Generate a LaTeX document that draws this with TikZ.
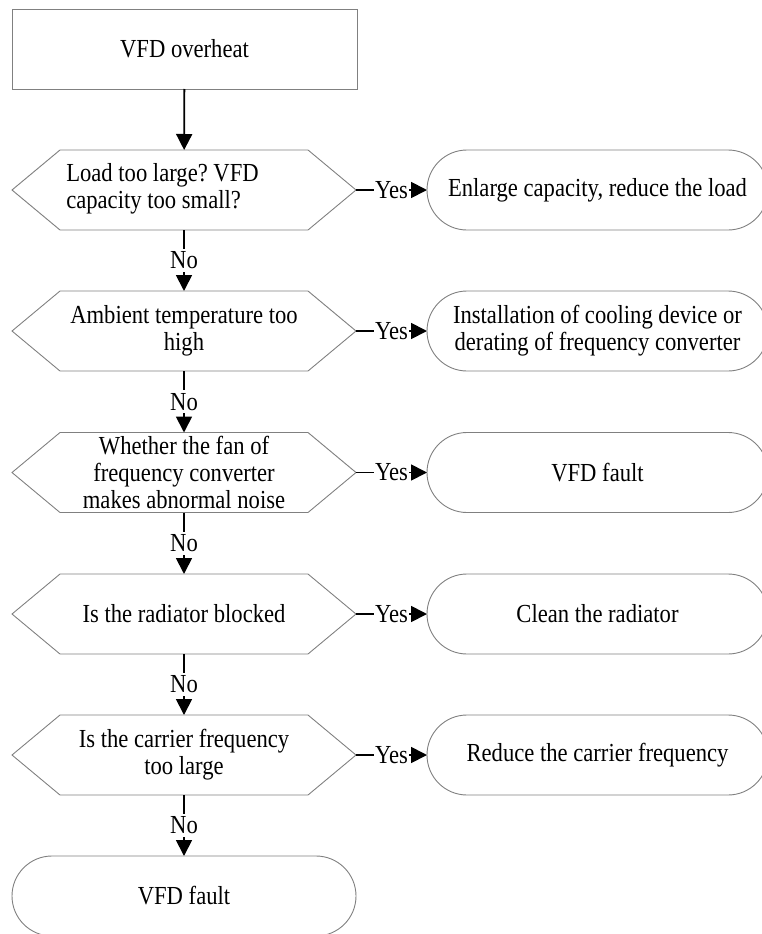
\documentclass[tikz,border=0pt]{standalone}
\usepackage{fontspec}
\setmainfont[FakeStretch=0.87]{Liberation Serif}
\usetikzlibrary{arrows.meta}
\frenchspacing
\newcommand\hexframe[1]{%
  \draw[shapeline] (#1.west) -- ([xshift=48pt]#1.north west) -- ([xshift=-48pt]#1.north east)
    -- (#1.east) -- ([xshift=-48pt]#1.south east) -- ([xshift=48pt]#1.south west) -- cycle;}
\begin{document}
\begin{tikzpicture}[x=1pt,y=-1pt,
  every node/.style={font=\fontsize{26}{27}\selectfont, inner sep=0pt, outer sep=0pt},
  shapeline/.style={draw=black!50, line width=0.9pt},
  startbox/.style={shapeline, minimum width=345pt, minimum height=80pt},
  decbox/.style={minimum width=344pt, minimum height=80pt, align=center},
  endbox/.style={shapeline, rounded corners=40pt, minimum height=80pt, align=center},
  flow/.style={line width=1.8pt, -{Triangle[width=16pt,length=16pt]}},
  lab/.style={fill=white, inner xsep=1pt, inner ysep=3pt}]
\useasboundingbox (0,0) rectangle (761,934);

\node[startbox] (start) at (184.5,49) {VFD overheat};

\node[minimum width=344pt, minimum height=80pt] (d1) at (184,190)
  {\begin{tabular}{@{}l@{}}Load too large? VFD\\capacity too small?\end{tabular}\hspace*{43pt}};
\node[decbox] (d2) at (184,331) {Ambient temperature too\\high};
\node[decbox] (d3) at (184,472.5) {Whether the fan of\\frequency converter\\makes abnormal noise};
\node[decbox] (d4) at (184,614) {Is the radiator blocked};
\node[decbox] (d5) at (184,755) {Is the carrier frequency\\too large};
\hexframe{d1}\hexframe{d2}\hexframe{d3}\hexframe{d4}\hexframe{d5}

\node[endbox, minimum width=341pt] (r1) at (597.5,190) {Enlarge capacity, reduce the load};
\node[endbox, minimum width=341pt] (r2) at (597.5,331) {Installation of cooling device or\\derating of frequency converter};
\node[endbox, minimum width=341pt] (r3) at (597.5,472.5) {VFD fault};
\node[endbox, minimum width=341pt] (r4) at (597.5,614) {Clean the radiator};
\node[endbox, minimum width=341pt] (r5) at (597.5,755) {Reduce the carrier frequency};

\node[endbox, minimum width=344pt] (fin) at (184,896) {VFD fault};

\draw[flow] (start) -- (d1);
\draw[flow] (d1) -- node[lab]{No} (d2);
\draw[flow] (d2) -- node[lab]{No} (d3);
\draw[flow] (d3) -- node[lab]{No} (d4);
\draw[flow] (d4) -- node[lab]{No} (d5);
\draw[flow] (d5) -- node[lab]{No} (fin);

\draw[flow] (d1) -- node[lab]{Yes} (r1);
\draw[flow] (d2) -- node[lab]{Yes} (r2);
\draw[flow] (d3) -- node[lab]{Yes} (r3);
\draw[flow] (d4) -- node[lab]{Yes} (r4);
\draw[flow] (d5) -- node[lab]{Yes} (r5);
\end{tikzpicture}
\end{document}
